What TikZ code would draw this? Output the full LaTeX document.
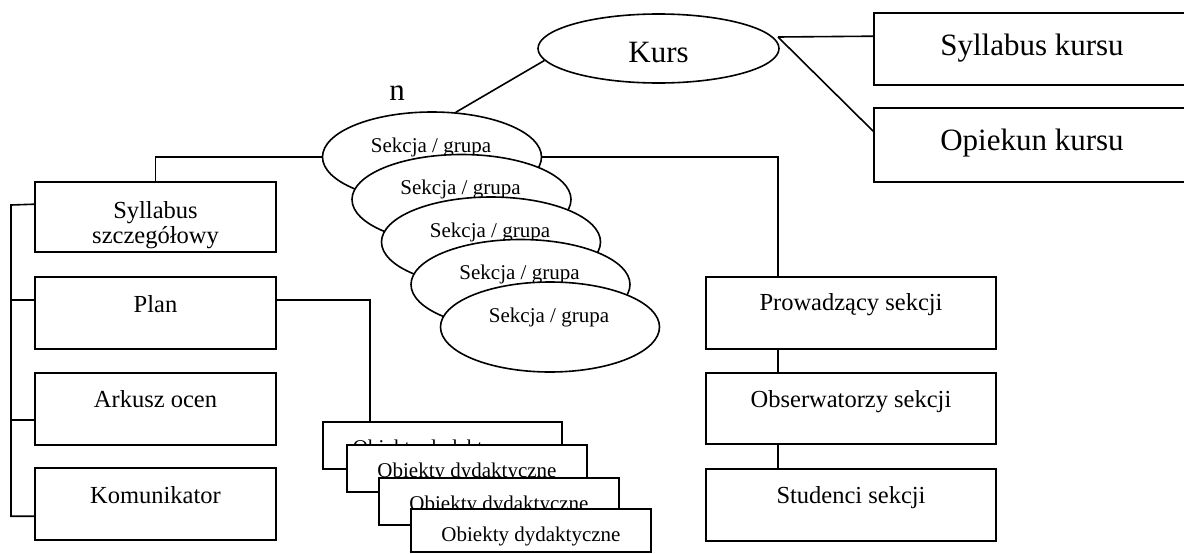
\documentclass[tikz,border=0pt]{standalone}
\usepackage{fontspec}
\setmainfont{Liberation Serif}
\usetikzlibrary{shapes.geometric}
\begin{document}
\begin{tikzpicture}[x=1pt,y=-1pt,line width=1.6pt,
  box/.style={draw, rectangle, fill=white, inner sep=0pt, line width=1.6pt},
  oval/.style={draw, ellipse, fill=white, inner sep=0pt, line width=1.6pt, minimum width=219pt, minimum height=90pt},
  bigtxt/.style={font=\fontsize{31}{36}\selectfont, anchor=base, inner sep=0pt},
  midtxt/.style={font=\fontsize{24.5}{28}\selectfont, anchor=base, inner sep=0pt},
  smalltxt/.style={font=\fontsize{21}{25}\selectfont, anchor=base, inner sep=0pt},
  conn/.style={draw, line width=1.6pt}
]
\useasboundingbox (0,0) rectangle (1184,554);
\clip (0,0) rectangle (1184,554);

% top
\node[oval, minimum width=241pt, minimum height=69pt] (kurs) at (658.5,48.5) {};
\node[bigtxt] (kurst) at (658.5,62) {Kurs};
\node[box, minimum width=330pt, minimum height=72pt] (sk) at (1039,49) {};
\node[bigtxt] (skt) at (1032,55) {Syllabus kursu};
\node[box, minimum width=330pt, minimum height=74pt] (op) at (1039,145) {};
\node[bigtxt] (opt) at (1032,150) {Opiekun kursu};
\node[bigtxt] (n) at (397,100) {n};
\coordinate (kj) at (778,37);

% sections
\foreach \i in {1,...,5} {
  \node[oval] (s\i) at ({432+29.5*(\i-1)},{157+42.5*(\i-1)}) {};
  \node[smalltxt] (st\i) at ({431+29.5*(\i-1)},{152+42.5*(\i-1)}) {Sekcja / grupa};
}

% left boxes
\node[box, minimum width=241pt, minimum height=70pt] (syl) at (155.5,217) {};
\node[midtxt] (sylt1) at (155.5,218) {Syllabus};
\node[midtxt] (sylt2) at (155.5,243) {szczegółowy};
\node[box, minimum width=241pt, minimum height=72pt] (plan) at (155.5,313) {};
\node[midtxt] (plant) at (155.5,312) {Plan};
\node[box, minimum width=241pt, minimum height=72pt] (ark) at (155.5,409) {};
\node[midtxt] (arkt) at (155.5,407) {Arkusz ocen};
\node[box, minimum width=241pt, minimum height=72pt] (kom) at (155.5,504) {};
\node[midtxt] (komt) at (155.5,503) {Komunikator};

% right boxes
\node[box, minimum width=290pt, minimum height=72pt] (prow) at (851,313) {};
\node[midtxt] (prowt) at (851,310) {Prowadzący sekcji};
\node[box, minimum width=290pt, minimum height=71pt] (obs) at (851,408.5) {};
\node[midtxt] (obst) at (851,407) {Obserwatorzy sekcji};
\node[box, minimum width=290pt, minimum height=72pt] (stud) at (851,505) {};
\node[midtxt] (studt) at (851,503) {Studenci sekcji};

% teaching objects
\node[box, minimum width=239pt, minimum height=47pt] (ob1) at (442.5,445.5) {};
\node[smalltxt] (obt1) at (442.5,454) {Obiekty dydaktyczne};
\node[box, minimum width=240pt, minimum height=47pt] (ob2) at (467,468.5) {};
\node[smalltxt] (obt2) at (467,477) {Obiekty dydaktyczne};
\node[box, minimum width=240pt, minimum height=47pt] (ob3) at (499,501.5) {};
\node[smalltxt] (obt3) at (499,510) {Obiekty dydaktyczne};
\node[box, minimum width=240pt, minimum height=43pt] (ob4) at (531,530.5) {};
\node[smalltxt] (obt4) at (531,541) {Obiekty dydaktyczne};

% connectors
\draw[conn] (kurs.186) -- (s1.62);
\draw[conn] (kj) -- ([yshift=-24pt]sk.north west);
\draw[conn] (kj) -- ([yshift=-24pt]op.north west);
\draw[conn] (s1.west) -| (syl.north);
\coordinate (pj) at ([xshift=73pt]prow.north west);
\draw[conn] (s1.east) -| (pj);
\draw[conn] (prow.south -| pj) -- (obs.north -| pj);
\draw[conn] (obs.south -| pj) -- (stud.north -| pj);
\coordinate (oj) at ([xshift=48pt]ob1.north west);
\draw[conn] ([yshift=-24pt]plan.north east) -| (oj);
\coordinate (lb) at (11,205);
\draw[conn] ([yshift=-23pt]syl.north west) -- (lb) |- ([yshift=-49pt]kom.north west);
\draw[conn] ([yshift=-24pt]plan.north west) -- ++(-24,0);
\draw[conn] ([yshift=-48pt]ark.north west) -- ++(-24,0);
\end{tikzpicture}
\end{document}
